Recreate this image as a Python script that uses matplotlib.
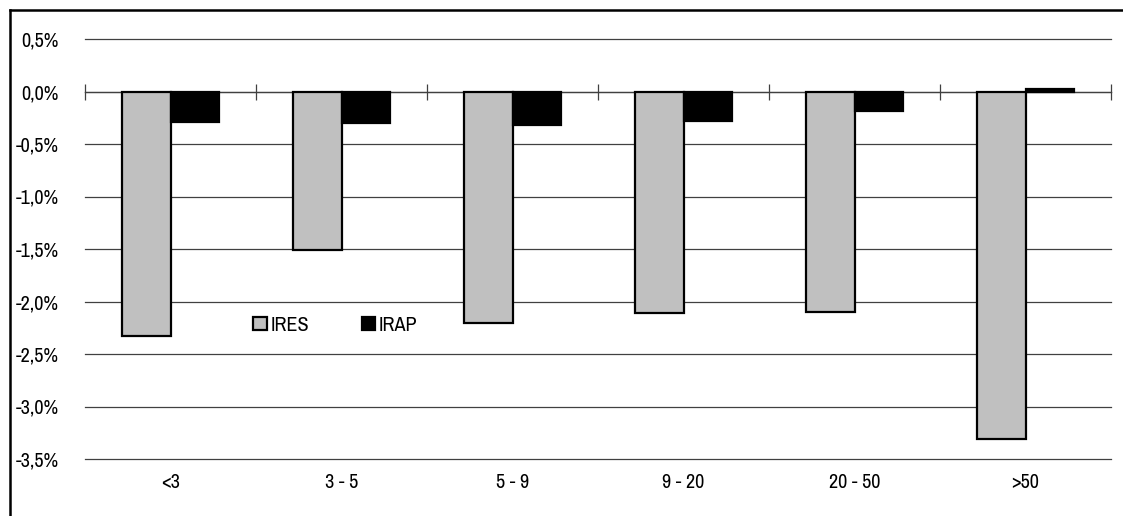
import numpy as np
import matplotlib
matplotlib.use("Agg")
import matplotlib.pyplot as plt
from matplotlib.patches import Patch
from matplotlib.lines import Line2D
from matplotlib.ticker import FuncFormatter, FixedLocator

plt.rcParams['font.family'] = ['Archivo Narrow', 'Roboto Condensed', 'DejaVu Sans']

categories = ["<3", "3 - 5", "5 - 9", "9 - 20", "20 - 50", ">50"]
ires = [-2.33, -1.51, -2.20, -2.11, -2.10, -3.31]
irap = [-0.29, -0.30, -0.32, -0.28, -0.19, 0.02]
yticks = [0.5, 0.0, -0.5, -1.0, -1.5, -2.0, -2.5, -3.0, -3.5]

FS = 14.5

W, H = 1123, 516
fig = plt.figure(figsize=(W / 100, H / 100), dpi=100)
ax = fig.add_axes([85 / W, 1 - 459 / H, (1111 - 85) / W, (459 - 39) / H])

x = np.arange(len(categories))
bw = 0.285
ax.bar(x - bw / 2, ires, width=bw, color="#C0C0C0", edgecolor="black",
       linewidth=1.6, zorder=3)
ax.bar(x + bw / 2, irap, width=bw, color="black", edgecolor="black",
       linewidth=1.6, zorder=3)

ax.set_xlim(-0.5, len(categories) - 0.5)
ax.set_ylim(-3.5, 0.5)
ax.set_yticks(yticks)
ax.yaxis.set_major_formatter(FuncFormatter(lambda v, p: f"{v:.1f}%".replace(".", ",")))
ax.yaxis.grid(True, color="#404040", linewidth=0.9, zorder=0)
ax.tick_params(axis="y", length=0, pad=19, labelsize=FS)

# category labels along the bottom, group boundaries marked on the zero line
ax.set_xticks(x)
ax.set_xticklabels(categories)
ax.xaxis.set_minor_locator(FixedLocator(np.arange(len(categories) + 1) - 0.5))
ax.tick_params(axis="x", which="major", length=0, pad=10, labelsize=FS,
               bottom=True, top=False, labelbottom=True, labeltop=False)
ax.tick_params(axis="x", which="minor", direction="inout", length=11,
               width=0.9, color="#404040", top=True, bottom=False)

for s in ["left", "right", "bottom"]:
    ax.spines[s].set_visible(False)
ax.spines["top"].set_position(("data", 0))
ax.spines["top"].set_color("#404040")
ax.spines["top"].set_linewidth(0.9)
ax.spines["top"].set_zorder(2)

handles = [Patch(facecolor="#C0C0C0", edgecolor="black", linewidth=1.6, label="IRES"),
           Patch(facecolor="black", edgecolor="black", linewidth=1.6, label="IRAP")]
ax.legend(handles=handles, loc="center", bbox_to_anchor=(0.244, 0.319),
          ncol=2, frameon=False, fontsize=FS, handlelength=0.65,
          handleheight=0.65, handletextpad=0.2, columnspacing=2.6)

fig.canvas.draw()
for gl in ax.get_ygridlines():
    gl.set_clip_on(False)

# outer frame
fig.add_artist(Line2D([9.5 / W, 9.5 / W], [1 - 10 / H, -0.05], color="black",
                      linewidth=1.8, transform=fig.transFigure))
fig.add_artist(Line2D([9.5 / W, 1.05], [1 - 10 / H, 1 - 10 / H], color="black",
                      linewidth=1.8, transform=fig.transFigure))

fig.savefig("out.png", dpi=100)
